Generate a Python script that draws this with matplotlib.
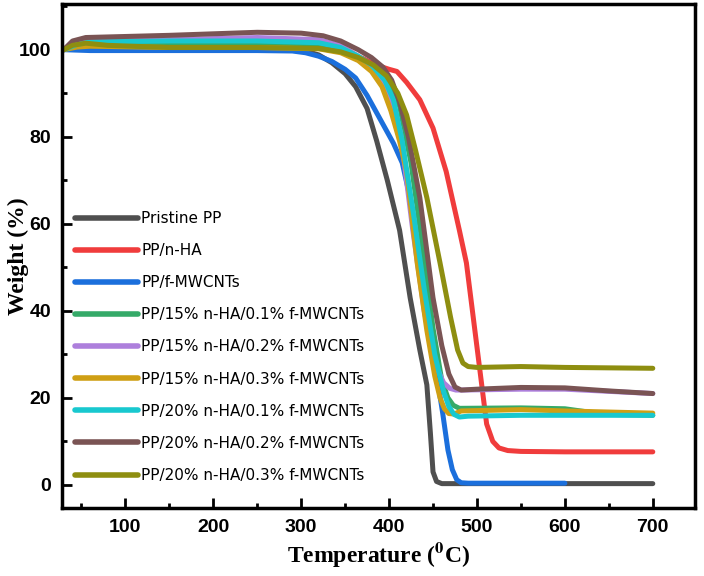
import numpy as np
import matplotlib.pyplot as plt
from matplotlib.ticker import MultipleLocator

plt.rcParams['mathtext.fontset'] = 'stix'

# TGA curves (temperature in C, weight in %)
t_pristine = [30, 45, 60, 150, 250, 300, 320, 335, 350, 362, 375, 386, 398, 412, 424, 435, 443, 447, 450, 454, 460, 700]
w_pristine = [100, 100.6, 100.8, 100.6, 100.5, 100, 98.8, 97, 94.5, 91.5, 86.5, 79, 70, 58.5, 43, 31, 23, 12, 3, 0.8, 0.3, 0.3]

t_nha = [30, 45, 60, 150, 250, 320, 350, 370, 385, 400, 409, 420, 435, 450, 465, 480, 488, 500, 511, 518, 525, 535, 550, 600, 700]
w_nha = [100, 100.8, 101.2, 101, 101, 100.5, 99.5, 98, 96.5, 95.5, 95, 92.5, 88.5, 82, 72, 58.5, 51, 31.7, 14, 10, 8.5, 7.9, 7.7, 7.6, 7.6]

t_mwcnt = [30, 60, 150, 250, 290, 305, 320, 335, 350, 362, 375, 390, 405, 415, 425, 440, 452, 461, 467, 472, 477, 482, 490, 600]
w_mwcnt = [100, 99.8, 99.8, 99.8, 99.7, 99.3, 98.5, 97.3, 95.5, 93.5, 89.5, 84, 78.5, 74, 65, 45, 28, 16.5, 8, 3.5, 1.2, 0.5, 0.4, 0.4]

t_15_01 = [30, 45, 60, 150, 250, 320, 345, 365, 380, 392, 402, 412, 425, 438, 450, 460, 467, 473, 480, 550, 600, 625, 650, 700]
w_15_01 = [100, 101, 101.5, 101.5, 101.3, 100.8, 99.5, 98, 96.5, 94.5, 91.5, 87, 74, 55, 36, 24, 20, 18.3, 17.6, 17.7, 17.5, 16.8, 16.2, 16]

t_15_02 = [30, 45, 60, 150, 250, 320, 345, 365, 380, 393, 403, 413, 427, 440, 452, 462, 469, 476, 485, 550, 600, 650, 700]
w_15_02 = [100, 101.3, 102, 102.3, 102.8, 102.3, 101, 98.5, 96, 92.5, 88, 81, 58.5, 40, 28, 23.5, 22.2, 21.8, 21.8, 22, 22, 21.5, 21]

t_15_03 = [30, 45, 60, 150, 250, 320, 345, 365, 380, 392, 402, 412, 420, 432, 443, 452, 458, 463, 468, 474, 482, 550, 600, 700]
w_15_03 = [100, 100.6, 100.8, 100.5, 100.5, 100.2, 99.3, 97.5, 95, 91.5, 86, 79, 72, 51, 35.5, 25, 20, 17.5, 16.4, 16.3, 17, 17.3, 17, 16.5]

t_20_01 = [30, 45, 60, 150, 250, 320, 345, 365, 380, 395, 405, 415, 428, 440, 452, 462, 468, 474, 480, 490, 550, 600, 700]
w_20_01 = [100, 101.2, 101.8, 102, 102, 101.6, 100.5, 98.5, 96.5, 93, 88.5, 79, 62, 45, 30, 21.5, 18, 16.2, 15.6, 15.8, 16, 16, 16]

t_20_02 = [30, 40, 55, 150, 250, 300, 325, 345, 365, 380, 393, 403, 412, 422, 435, 450, 460, 468, 475, 482, 500, 550, 600, 650, 700]
w_20_02 = [100, 102, 102.8, 103.3, 104, 103.8, 103.2, 102, 100, 98.2, 96, 93, 88, 80, 66, 43, 32, 25.5, 22.5, 21.8, 22, 22.4, 22.3, 21.6, 21]

t_20_03 = [30, 40, 55, 80, 150, 250, 320, 345, 365, 382, 397, 410, 420, 430, 443, 458, 470, 478, 484, 490, 500, 550, 600, 700]
w_20_03 = [100, 101, 101.5, 101, 100.5, 100.5, 100.3, 99.5, 98.2, 96.5, 94, 90, 85, 77, 66, 51, 38.5, 31, 28, 27.2, 27, 27.2, 27, 26.8]

series = [
    ('Pristine PP', t_pristine, w_pristine, '#4f4f4f'),
    ('PP/n-HA', t_nha, w_nha, '#f03c3c'),
    ('PP/f-MWCNTs', t_mwcnt, w_mwcnt, '#1b6fdc'),
    ('PP/15% n-HA/0.1% f-MWCNTs', t_15_01, w_15_01, '#35aa68'),
    ('PP/15% n-HA/0.2% f-MWCNTs', t_15_02, w_15_02, '#ad7fdc'),
    ('PP/15% n-HA/0.3% f-MWCNTs', t_15_03, w_15_03, '#cf9f14'),
    ('PP/20% n-HA/0.1% f-MWCNTs', t_20_01, w_20_01, '#18c8cf'),
    ('PP/20% n-HA/0.2% f-MWCNTs', t_20_02, w_20_02, '#7a5454'),
    ('PP/20% n-HA/0.3% f-MWCNTs', t_20_03, w_20_03, '#8e8e10'),
]

fig = plt.figure(figsize=(7.04, 5.76), dpi=100)
ax = fig.add_axes([62/704, 1-508/576, (695-62)/704, (508-4)/576])

for name, t, w, c in series:
    ax.plot(t, w, color=c, lw=3.6, label=name, solid_capstyle='round', solid_joinstyle='round')

ax.set_xlim(28, 748)
ax.set_ylim(-5.3, 110.5)
ax.xaxis.set_major_locator(MultipleLocator(100))
ax.xaxis.set_minor_locator(MultipleLocator(50))
ax.yaxis.set_major_locator(MultipleLocator(20))
ax.yaxis.set_minor_locator(MultipleLocator(10))
ax.tick_params(which='major', direction='in', length=7, width=2, pad=8)
ax.tick_params(which='minor', direction='in', length=3.5, width=2)
for s in ax.spines.values():
    s.set_linewidth(2.5)
for lab in ax.get_xticklabels() + ax.get_yticklabels():
    lab.set_fontfamily('Liberation Sans')
    lab.set_fontweight('bold')
    lab.set_fontsize(14)

ax.set_xlabel(r'Temperature ($\mathbf{^{0}}$C)', family='Liberation Serif', weight='bold', fontsize=17)
ax.set_ylabel('Weight (%)', family='Liberation Serif', weight='bold', fontsize=17)
ax.yaxis.set_label_coords(-33/633, 0.5)
ax.xaxis.set_label_coords(0.5, -32/504)

leg = ax.legend(loc='upper left', bbox_to_anchor=(75/704, 1-211/576), bbox_transform=fig.transFigure,
                frameon=False, prop={'family': 'DejaVu Sans', 'size': 11}, handlelength=4.1,
                handletextpad=0.25, labelspacing=1.12, borderpad=0, borderaxespad=0)
for h in leg.get_lines():
    h.set_linewidth(4)

fig.savefig('out.png', dpi=100)
